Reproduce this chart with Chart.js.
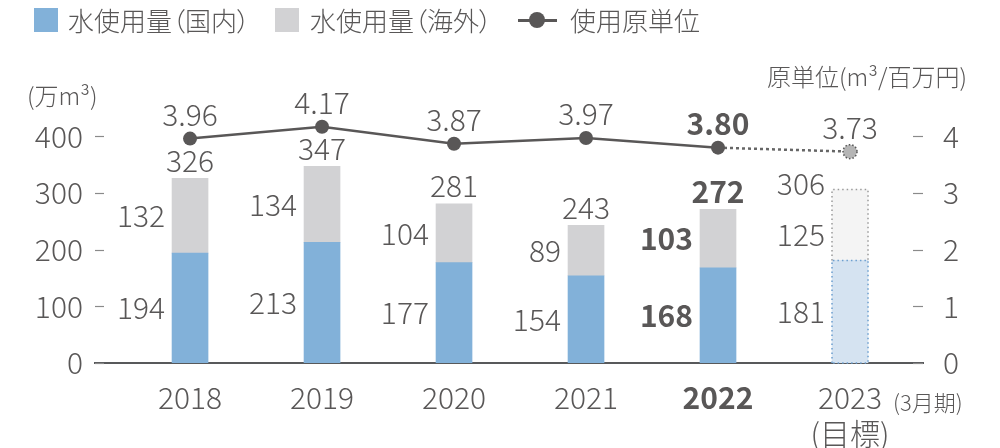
<!DOCTYPE html>
<html>
<head>
<meta charset="utf-8">
<script src="https://cdn.jsdelivr.net/npm/chart.js@4"></script>
<style>
body { margin: 0; background: #fff; }
#wrap { position: relative; width: 1000px; height: 448px; font-family: "Noto Sans CJK JP", "Noto Sans", sans-serif; color: #595757; }
#chart { position: absolute; left: 0; top: 0; }
.lg { position: absolute; top: 4px; font-size: 26px; font-weight: 300; line-height: 32px; font-feature-settings: "palt"; white-space: nowrap; }
.sw { position: absolute; top: 8px; width: 24px; height: 24px; }
</style>
</head>
<body>
<div id="wrap">
    <canvas id="chart" width="1000" height="448"></canvas>
    <div class="sw" style="left:34px;background:#82b1d9"></div>
    <div class="lg" style="left:68px">水使用量（国内）</div>
    <div class="sw" style="left:275px;background:#d2d2d4"></div>
    <div class="lg" style="left:310px">水使用量（海外）</div>
    <div style="position:absolute;left:518px;top:19px;width:39px;height:3px;background:#595757"></div>
    <div style="position:absolute;left:529px;top:12px;width:16px;height:16px;border-radius:50%;background:#595757"></div>
    <div class="lg" style="left:570px">使用原単位</div>
</div>
<script>
const years = ["2018", "2019", "2020", "2021", "2022", "2023"];
const domestic = [194, 213, 177, 154, 168, 181];
const overseas = [132, 134, 104, 89, 103, 125];
const totals = [326, 347, 281, 243, 272, 306];
const unitRate = [3.96, 4.17, 3.87, 3.97, 3.80, 3.73];
const leftTicks = [0, 100, 200, 300, 400];
const rightTicks = [0, 1, 2, 3, 4];

const textColor = "#595757";
const fontFamily = '"Noto Sans CJK JP", "Noto Sans", sans-serif';
const isTarget = (i) => i === years.length - 1;
const isCurrent = (i) => i === 4;

Chart.defaults.font.family = fontFamily;
Chart.defaults.font.weight = "300";
Chart.defaults.color = textColor;

function font(size, bold) {
    return (bold ? "bold " : "300 ") + size + "px " + fontFamily;
}

// dotted outline for the target-year bars
function outline(ctx, bar, color, withBottom) {
    const l = bar.x - bar.width / 2, r = bar.x + bar.width / 2;
    ctx.strokeStyle = color;
    ctx.lineWidth = 1.5;
    ctx.setLineDash([1.5, 3]);
    ctx.beginPath();
    ctx.moveTo(l, bar.base);
    ctx.lineTo(l, bar.y);
    ctx.lineTo(r, bar.y);
    ctx.lineTo(r, bar.base);
    if (withBottom) ctx.lineTo(l, bar.base);
    ctx.stroke();
    ctx.setLineDash([]);
}

const decor = {
    id: "decor",
    beforeDatasetsDraw(chart) {
        const { ctx, chartArea: a } = chart;
        ctx.save();
        ctx.strokeStyle = "#8a8a8a";
        ctx.lineWidth = 1.2;
        chart.scales.y.ticks.forEach((t) => {
            const py = Math.round(chart.scales.y.getPixelForValue(t.value)) + 0.5;
            ctx.beginPath(); ctx.moveTo(a.left, py); ctx.lineTo(a.left + 9, py); ctx.stroke();
        });
        chart.scales.y1.ticks.forEach((t) => {
            const py = Math.round(chart.scales.y1.getPixelForValue(t.value)) + 0.5;
            ctx.beginPath(); ctx.moveTo(a.right - 10, py); ctx.lineTo(a.right, py); ctx.stroke();
        });
        ctx.restore();
    },
    afterDatasetsDraw(chart) {
        const ctx = chart.ctx;
        const dom = chart.getDatasetMeta(0).data;
        const ov = chart.getDatasetMeta(1).data;
        const pts = chart.getDatasetMeta(2).data;
        ctx.save();
        years.forEach((_, i) => {
            if (!isTarget(i)) return;
            outline(ctx, ov[i], "#9a9a9a", false);
            outline(ctx, dom[i], "#6d9fcf", true);
            // dotted ring on the target point
            ctx.strokeStyle = "#555";
            ctx.lineWidth = 1.5;
            ctx.setLineDash([1.5, 2]);
            ctx.beginPath();
            ctx.arc(pts[i].x, pts[i].y, 7, 0, Math.PI * 2);
            ctx.stroke();
            ctx.setLineDash([]);
        });

        ctx.fillStyle = textColor;
        ctx.textBaseline = "middle";
        years.forEach((_, i) => {
            const b = isCurrent(i);
            ctx.font = font(30, b);
            const side = dom[i].x - dom[i].width / 2 - 7;

            ctx.textAlign = "center";
            ctx.fillText(unitRate[i].toFixed(2), pts[i].x, pts[i].y - 24);

            if (isTarget(i)) {
                ctx.textAlign = "right";
                ctx.fillText(totals[i], side, ov[i].y - 6);
            } else {
                ctx.fillText(totals[i], ov[i].x, ov[i].y - 18);
            }

            ctx.textAlign = "right";
            ctx.fillText(overseas[i], side, (ov[i].y + ov[i].base) / 2 + (isTarget(i) ? 10 : 0));
            ctx.fillText(domestic[i], side, (dom[i].y + dom[i].base) / 2);
        });
        ctx.restore();
    },
    afterDraw(chart) {
        const ctx = chart.ctx;
        ctx.save();
        ctx.fillStyle = textColor;
        ctx.textBaseline = "middle";
        ctx.font = font(24);
        ctx.textAlign = "left";
        ctx.fillText("(万m³)", 27, 96);
        ctx.textAlign = "right";
        ctx.fillText("原単位(m³/百万円)", 967, 77);
        ctx.font = font(22);
        ctx.textAlign = "left";
        ctx.fillText("(3月期)", 893, 403);
        ctx.restore();
    },
};

new Chart(document.getElementById("chart"), {
    type: "bar",
    data: {
        datasets: [
            {
                label: "水使用量(国内)",
                data: domestic.map((v, i) => ({ x: i, y: v })),
                backgroundColor: years.map((_, i) => (isTarget(i) ? "#d5e3f1" : "#82b1d9")),
                stack: "water",
                barThickness: 36,
                order: 1,
            },
            {
                label: "水使用量(海外)",
                data: overseas.map((v, i) => ({ x: i, y: v })),
                backgroundColor: years.map((_, i) => (isTarget(i) ? "#f4f4f4" : "#d2d2d4")),
                stack: "water",
                barThickness: 36,
                order: 1,
            },
            {
                type: "line",
                label: "使用原単位",
                yAxisID: "y1",
                data: unitRate.map((v, i) => ({ x: i, y: v })),
                borderColor: "#595757",
                borderWidth: 2.5,
                pointRadius: 7,
                pointHoverRadius: 7,
                pointBorderWidth: 0,
                pointBackgroundColor: years.map((_, i) => (isTarget(i) ? "#b5b5b5" : "#595757")),
                segment: {
                    borderDash: (c) => (isTarget(c.p1DataIndex) ? [3, 3] : undefined),
                    borderColor: (c) => (isTarget(c.p1DataIndex) ? "#666" : undefined),
                },
                order: 0,
            },
        ],
    },
    options: {
        responsive: false,
        animation: false,
        events: [],
        layout: { padding: { top: 108 } },
        plugins: { legend: { display: false }, tooltip: { enabled: false } },
        scales: {
            x: {
                type: "linear",
                min: -0.72,
                max: 5.553,
                stacked: true,
                offset: false,
                grid: { display: false, drawTicks: false },
                border: { display: true, color: "#58595b", width: 2 },
                afterBuildTicks: (s) => { s.ticks = years.map((_, i) => ({ value: i })); },
                afterFit: (s) => { s.height = 85; },
                ticks: {
                    padding: 17,
                    autoSkip: false,
                    maxRotation: 0,
                    color: textColor,
                    font: (c) => ({ size: 30, weight: isCurrent(c.index) ? "bold" : "300" }),
                    callback: (v) => (isTarget(v) ? [years[v], "(目標)"] : years[v]),
                },
            },
            y: {
                position: "left",
                stacked: true,
                min: 0,
                max: 450,
                grid: { display: false, drawTicks: false },
                border: { display: false },
                afterBuildTicks: (s) => { s.ticks = leftTicks.map((v) => ({ value: v })); },
                afterFit: (s) => { s.width = 95; },
                ticks: { padding: 12, font: { size: 30, weight: "300" }, color: textColor },
            },
            y1: {
                position: "right",
                min: 0,
                max: 4.5,
                grid: { display: false, drawTicks: false },
                border: { display: false },
                afterBuildTicks: (s) => { s.ticks = rightTicks.map((v) => ({ value: v })); },
                afterFit: (s) => { s.width = 77; },
                ticks: { padding: 20, font: { size: 30, weight: "300" }, color: textColor },
            },
        },
    },
    plugins: [decor],
});
</script>
</body>
</html>
